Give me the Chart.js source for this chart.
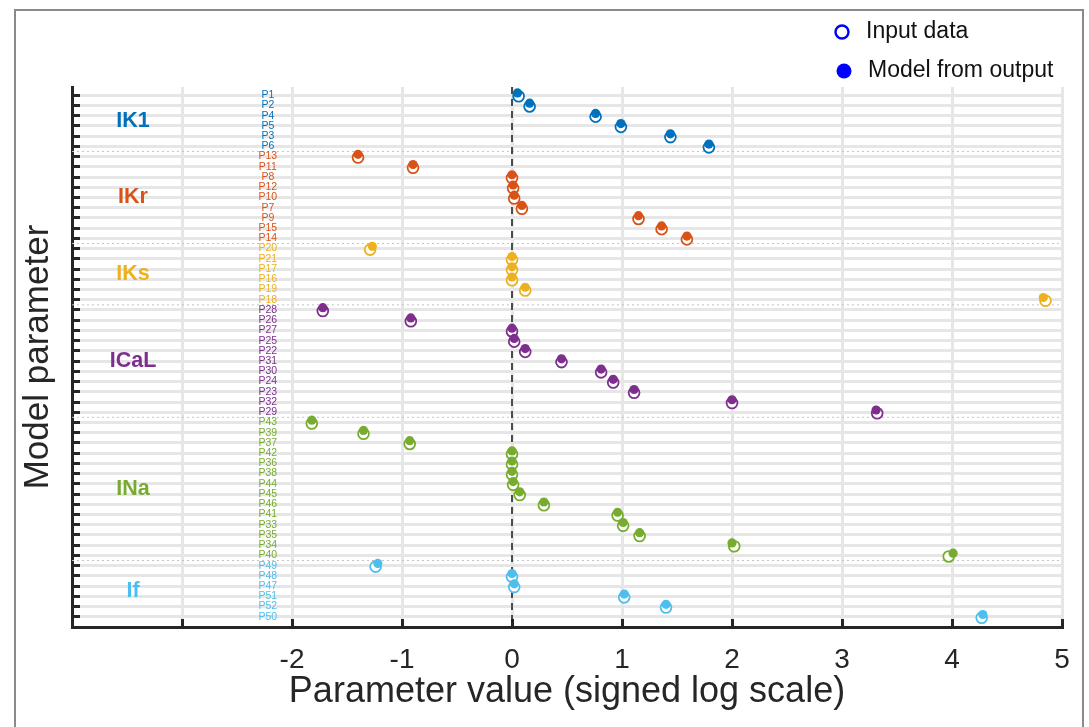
<!DOCTYPE html>
<html>
<head>
<meta charset="utf-8">
<script src="https://cdn.jsdelivr.net/npm/chart.js@4.4.0/dist/chart.umd.min.js"></script>
<style>
    html, body { margin: 0; padding: 0; background: #fff; }
    #contenedor { position: relative; width: 1089px; height: 727px; overflow: hidden; }
    #marco { position: absolute; left: 14px; top: 9px; width: 1066px; height: 740px; border: 2px solid #8a8a8a; }
    canvas { position: absolute; left: 0; top: 0; }
</style>
</head>
<body>
<div id="contenedor">
    <div id="marco"></div>
    <canvas id="Grafico" width="1089" height="727"></canvas>
</div>
<script>
const nombres_grupos = ['IK1', 'IKr', 'IKs', 'ICaL', 'INa', 'If'];
const colores_grupos = ['#0072BD', '#D95319', '#EDB120', '#7E2F8E', '#77AC30', '#4DBEEE'];
const parametros = [
    ['P1', 'P2', 'P4', 'P5', 'P3', 'P6'],
    ['P13', 'P11', 'P8', 'P12', 'P10', 'P7', 'P9', 'P15', 'P14'],
    ['P20', 'P21', 'P17', 'P16', 'P19', 'P18'],
    ['P28', 'P26', 'P27', 'P25', 'P22', 'P31', 'P30', 'P24', 'P23', 'P32', 'P29'],
    ['P43', 'P39', 'P37', 'P42', 'P36', 'P38', 'P44', 'P45', 'P46', 'P41', 'P33', 'P35', 'P34', 'P40'],
    ['P49', 'P48', 'P47', 'P51', 'P52', 'P50']
];
// valores de entrada (circulo abierto)
const valores_entrada = [
    [0.06, 0.16, 0.76, 0.99, 1.44, 1.79],
    [-1.40, -0.90, 0.00, 0.01, 0.02, 0.09, 1.15, 1.36, 1.59],
    [-1.29, 0.00, 0.00, 0.00, 0.12, 4.85],
    [-1.72, -0.92, 0.00, 0.02, 0.12, 0.45, 0.81, 0.92, 1.11, 2.00, 3.32],
    [-1.82, -1.35, -0.93, 0.00, 0.00, 0.00, 0.01, 0.07, 0.29, 0.96, 1.01, 1.16, 2.02, 3.97],
    [-1.24, 0.00, 0.02, 1.02, 1.40, 4.27]
];
// modelo obtenido de la salida (circulo lleno)
const valores_modelo = [
    [0.05, 0.16, 0.76, 0.99, 1.44, 1.79],
    [-1.40, -0.90, 0.00, 0.01, 0.02, 0.09, 1.15, 1.36, 1.59],
    [-1.27, 0.00, 0.00, 0.00, 0.12, 4.83],
    [-1.72, -0.92, 0.00, 0.02, 0.12, 0.45, 0.81, 0.92, 1.11, 2.00, 3.31],
    [-1.82, -1.35, -0.93, 0.00, 0.00, 0.00, 0.01, 0.07, 0.29, 0.96, 1.01, 1.16, 2.00, 4.01],
    [-1.22, 0.00, 0.02, 1.02, 1.40, 4.28]
];
const ticks_x = [-4, -3, -2, -1, 0, 1, 2, 3, 4, 5];
const titulo_x = 'Parameter value (signed log scale)';
const titulo_y = 'Model parameter';
const leyenda = ['Input data', 'Model from output'];

const fuente = '"Liberation Sans", Arial, sans-serif';
const negro = '#262626';
const gris = '#e6e6e6';

const puntos_entrada = [];
const puntos_modelo = [];
const colores_puntos = [];
const separadores = [];
let fila = 0;
for (let g = 0; g < parametros.length; g++) {
    for (let i = 0; i < parametros[g].length; i++) {
        puntos_entrada.push({x: valores_entrada[g][i], y: fila + 0.1});
        puntos_modelo.push({x: valores_modelo[g][i], y: fila - 0.22});
        colores_puntos.push(colores_grupos[g]);
        fila++;
    }
    if (g < parametros.length - 1) separadores.push(fila - 0.5);
}
const total_filas = fila;
const y_min = -0.8;
const y_max = total_filas;

const datasets = [
    {
        label: leyenda[1],
        data: puntos_modelo,
        pointRadius: 4.6,
        pointBorderWidth: 0,
        pointBackgroundColor: colores_puntos,
        pointBorderColor: colores_puntos,
    },
    {
        label: leyenda[0],
        data: puntos_entrada,
        pointRadius: 5.4,
        pointBorderWidth: 1.8,
        pointBackgroundColor: '#ffffff',
        pointBorderColor: colores_puntos,
    },
    {
        type: 'line',
        data: [{x: 0, y: y_min}, {x: 0, y: y_max}],
        borderColor: '#1a1a1a',
        borderWidth: 1.5,
        borderDash: [7, 5],
        pointRadius: 0,
    }
];
separadores.forEach((s) => {
    datasets.push({
        type: 'line',
        data: [{x: ticks_x[0], y: s}, {x: ticks_x[ticks_x.length - 1], y: s}],
        borderColor: '#c4c4c4',
        borderWidth: 1,
        borderDash: [2, 3],
        pointRadius: 0,
    });
});

const etiquetas = {
    id: 'etiquetas',
    afterDatasetsDraw(chart) {
        const ctx = chart.ctx;
        const x = chart.scales.x;
        const y = chart.scales.y;
        ctx.save();
        ctx.textAlign = 'center';
        ctx.textBaseline = 'middle';
        let f = 0;
        for (let g = 0; g < parametros.length; g++) {
            ctx.fillStyle = colores_grupos[g];
            ctx.font = '10.5px ' + fuente;
            for (let i = 0; i < parametros[g].length; i++) {
                ctx.fillText(parametros[g][i], x.getPixelForValue(-2.22), y.getPixelForValue(f + i));
            }
            ctx.font = 'bold 21.5px ' + fuente;
            ctx.fillText(nombres_grupos[g], x.getPixelForValue(-3.445), y.getPixelForValue(f + (parametros[g].length - 1) / 2));
            f += parametros[g].length;
        }
        // leyenda
        ctx.textAlign = 'left';
        ctx.font = '23px ' + fuente;
        ctx.strokeStyle = '#0000ff';
        ctx.fillStyle = '#0000ff';
        ctx.lineWidth = 2.4;
        ctx.beginPath();
        ctx.arc(842, 32, 6.5, 0, Math.PI * 2);
        ctx.stroke();
        ctx.beginPath();
        ctx.arc(844, 71, 7.5, 0, Math.PI * 2);
        ctx.fill();
        ctx.fillStyle = '#111';
        ctx.fillText(leyenda[0], 866, 32);
        ctx.fillText(leyenda[1], 868, 71);
        ctx.restore();
    }
};

new Chart(document.getElementById('Grafico'), {
    type: 'scatter',
    data: {datasets: datasets},
    options: {
        responsive: false,
        animation: false,
        events: [],
        layout: {padding: {top: 87, right: 27, bottom: 13, left: 17}},
        plugins: {legend: {display: false}, tooltip: {enabled: false}},
        scales: {
            x: {
                type: 'linear',
                min: ticks_x[0],
                max: ticks_x[ticks_x.length - 1],
                afterBuildTicks: (axis) => { axis.ticks = ticks_x.map((v) => ({value: v})); },
                ticks: {
                    callback: (v) => (v >= -2 ? String(v) : ''),
                    font: {family: fuente, size: 28, lineHeight: 1.6},
                    color: negro,
                    padding: 19,
                    maxRotation: 0,
                },
                grid: {color: gris, lineWidth: 3, tickColor: negro, tickWidth: 3, tickLength: -8},
                border: {color: negro, width: 3},
                title: {display: true, text: titulo_x, font: {family: fuente, size: 36}, color: negro, padding: {top: -31, bottom: 0}},
            },
            y: {
                type: 'linear',
                reverse: true,
                min: y_min,
                max: y_max,
                afterBuildTicks: (axis) => {
                    const t = [];
                    for (let i = 0; i < total_filas; i++) t.push({value: i});
                    axis.ticks = t;
                },
                ticks: {display: false},
                grid: {color: gris, lineWidth: 3, tickColor: negro, tickWidth: 3, tickLength: -8},
                border: {color: negro, width: 3},
                title: {display: true, text: titulo_y, font: {family: fuente, size: 35}, color: negro, padding: {top: 0, bottom: 21}},
            }
        }
    },
    plugins: [etiquetas]
});
</script>
</body>
</html>
